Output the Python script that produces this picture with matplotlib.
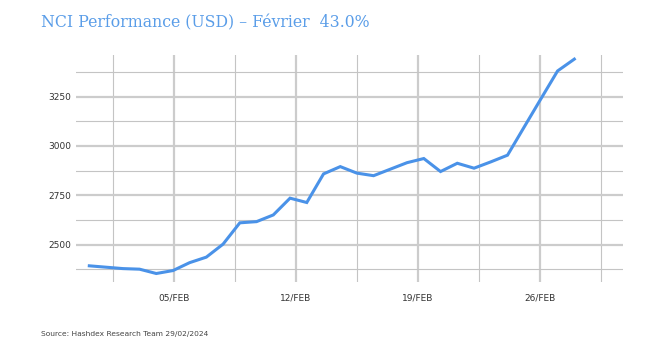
import matplotlib
matplotlib.use("Agg")
import matplotlib.pyplot as plt
from matplotlib.ticker import FixedLocator

# Day-of-February positions of each observation
days = [0.16, 1.12, 2.08, 3.04, 4.00, 4.96, 5.91, 6.87, 7.83, 8.79,
        9.75, 10.71, 11.67, 12.63, 13.59, 14.55, 15.50, 16.46, 17.42, 18.38,
        19.34, 20.30, 21.26, 22.22, 23.18, 24.14, 25.09, 26.05, 27.01, 27.97]
nci = [2392, 2385, 2378, 2375, 2353, 2368, 2408, 2436, 2502, 2610,
       2616, 2650, 2735, 2713, 2858, 2895, 2862, 2849, 2882, 2915,
       2936, 2870, 2912, 2887, 2919, 2953, 3095, 3238, 3380, 3440]

major_days = [5, 12, 19, 26]
major_labels = ["05/FEB", "12/FEB", "19/FEB", "26/FEB"]
minor_days = [1.5, 8.5, 15.5, 22.5, 29.5]
major_values = [2500, 2750, 3000, 3250]
minor_values = [2375, 2625, 2875, 3125, 3375]

title = "NCI Performance (USD) \u2013 Février  43.0%"
source = "Source: Hashdex Research Team 29/02/2024"

fig = plt.figure(figsize=(6.6, 3.57), dpi=100)
ax = fig.add_axes([0.1147, 0.2101, 0.8292, 0.6359])

ax.set_xlim(-0.62, 30.76)
ax.set_ylim(2310, 3461)

ax.xaxis.set_major_locator(FixedLocator(major_days))
ax.xaxis.set_minor_locator(FixedLocator(minor_days))
ax.set_xticklabels(major_labels)
ax.yaxis.set_major_locator(FixedLocator(major_values))
ax.yaxis.set_minor_locator(FixedLocator(minor_values))
ax.set_yticklabels([str(v) for v in major_values])

ax.grid(which="major", color="#cccccc", linewidth=1.6)
ax.grid(which="minor", color="#c4c4c4", linewidth=0.8)
ax.set_axisbelow(True)

for s in ax.spines.values():
    s.set_visible(False)
ax.tick_params(which="both", length=0)
ax.tick_params(axis="x", pad=8, labelsize=6.5, labelcolor="#333333")
ax.tick_params(axis="y", pad=3, labelsize=6.5, labelcolor="#333333")

ax.plot(days, nci, color="#4a92e8", linewidth=2.2, solid_joinstyle="miter")

fig.text(41/660, 1 - 23/357, title, family="DejaVu Serif", fontsize=11.3,
         color="#5a9de8", va="center", ha="left")
fig.text(41/660, 1 - 334/357, source, family="DejaVu Sans", fontsize=5.4,
         color="#444444", va="center", ha="left")

fig.savefig("out.png", dpi=100)
